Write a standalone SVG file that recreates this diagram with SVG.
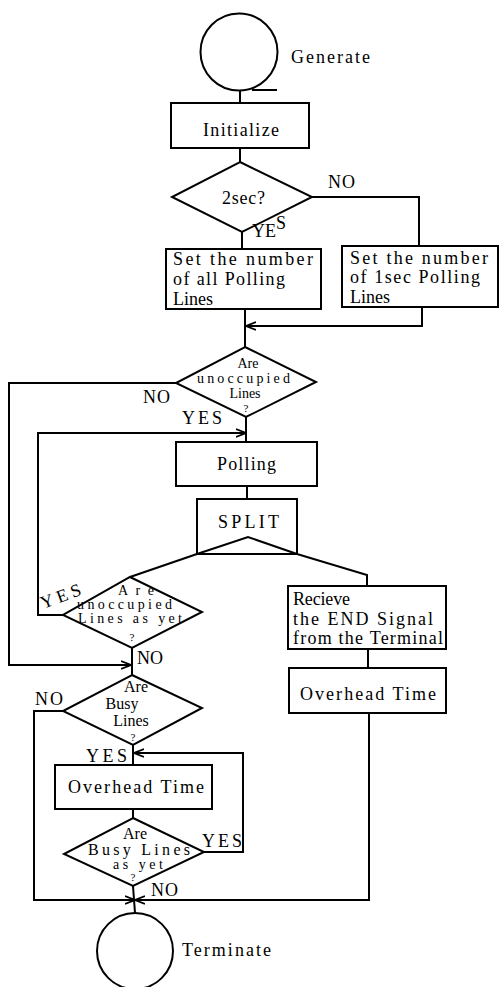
<svg xmlns="http://www.w3.org/2000/svg" width="499" height="987" viewBox="0 0 499 987">
<style>
.s{fill:none;stroke:#000;stroke-width:2}
.n{fill:#fff;stroke:#000;stroke-width:2}
text{font-family:"Liberation Serif","Times New Roman",serif;fill:#000}
.t{font-size:18px}
.m{font-size:16px}
.d{font-size:14px}
.q{font-size:11px}
.c{text-anchor:middle}
</style>
<defs>
<marker id="arr" viewBox="0 0 10 10" refX="10" refY="5" markerWidth="10" markerHeight="10" markerUnits="userSpaceOnUse" orient="auto">
<path d="M0,1 L10,5 L0,9" fill="none" stroke="#000" stroke-width="1.8"/>
</marker>
</defs>
<rect width="499" height="987" fill="#fff"/>
<g id="connectors" class="s">
<path d="M240,91 V103"/>
<path d="M240,148 V162"/>
<path d="M242,232 V249"/>
<path d="M312,197 H419 V246"/>
<path d="M245,309 V347"/>
<path d="M422,307 V326 H246" marker-end="url(#arr)"/>
<path d="M176,383 H9 V665 H131" marker-end="url(#arr)"/>
<path d="M246,417 V442"/>
<path d="M63,615 H38 V433 H246" marker-end="url(#arr)"/>
<path d="M247,486 V499"/>
<path d="M197,554 L130,577"/>
<path d="M297,554 L367,575 V586"/>
<path d="M132,648 V675"/>
<path d="M368,649 V668"/>
<path d="M369,713 V900 H135" marker-end="url(#arr)"/>
<path d="M63,711 H34 V900 H135" marker-end="url(#arr)"/>
<path d="M133,745 V765"/>
<path d="M133,809 V818"/>
<path d="M204,852 H243 V753 H134" marker-end="url(#arr)"/>
<path d="M133,886 L135,913"/>
</g>
<g id="generate">
<circle class="n" cx="239" cy="52" r="38.5"/>
<path class="s" d="M252,90 H277"/>
<text class="t" x="291" y="63" textLength="79" lengthAdjust="spacing">Generate</text>
</g>
<g id="initialize">
<rect class="n" x="171" y="103" width="138" height="45"/>
<text class="t" x="203" y="136" textLength="76" lengthAdjust="spacing">Initialize</text>
</g>
<g id="twosec">
<polygon class="n" points="240,162 312,197 242,232 172,197"/>
<text class="t" x="222" y="204" textLength="43" lengthAdjust="spacing">2sec?</text>
<text class="t" x="328" y="188" textLength="27" lengthAdjust="spacing">NO</text>
<text class="t" x="252" y="237">YE<tspan dy="-8">S</tspan></text>
</g>
<g id="setall">
<rect class="n" x="166" y="249" width="155" height="60"/>
<text class="t" x="173" y="265" textLength="140" lengthAdjust="spacing">Set the number</text>
<text class="t" x="173" y="285" textLength="112" lengthAdjust="spacing">of all Polling</text>
<text class="t" x="173" y="305">Lines</text>
</g>
<g id="set1sec">
<rect class="n" x="342" y="246" width="156" height="61"/>
<text class="t" x="350" y="264" textLength="138" lengthAdjust="spacing">Set the number</text>
<text class="t" x="350" y="283" textLength="130" lengthAdjust="spacing">of 1sec Polling</text>
<text class="t" x="350" y="303">Lines</text>
</g>
<g id="unoccupied">
<polygon class="n" points="245,347 316,382 246,417 176,383"/>
<text class="d c" x="248" y="368">Are</text>
<text class="d" x="197" y="383" textLength="93" lengthAdjust="spacing">unoccupied</text>
<text class="d c" x="245" y="398">Lines</text>
<text class="q c" x="246" y="412">?</text>
<text class="t" x="143" y="403" textLength="27" lengthAdjust="spacing">NO</text>
<text class="t" x="182" y="424" textLength="40" lengthAdjust="spacing">YES</text>
</g>
<g id="polling">
<rect class="n" x="176" y="442" width="141" height="44"/>
<text class="t" x="217" y="470" textLength="59" lengthAdjust="spacing">Polling</text>
</g>
<g id="split">
<rect class="n" x="197" y="499" width="100" height="55"/>
<path class="s" d="M197,554 L248,537 L297,554"/>
<text class="t" x="218" y="528" textLength="61" lengthAdjust="spacing">SPLIT</text>
</g>
<g id="asyet">
<polygon class="n" points="130,577 202,612 132,648 63,615"/>
<text class="d" x="118" y="595" textLength="36" lengthAdjust="spacing">Are</text>
<text class="d" x="77" y="609" textLength="95" lengthAdjust="spacing">unoccupied</text>
<text class="d" x="78" y="623" textLength="104" lengthAdjust="spacing">Lines as yet</text>
<text class="q c" x="132" y="641">?</text>
<text class="t" x="43" y="609" textLength="42" lengthAdjust="spacing" transform="rotate(-20 43 609)">YES</text>
<text class="t" x="137" y="664" textLength="26" lengthAdjust="spacing">NO</text>
</g>
<g id="recieve">
<rect class="n" x="288" y="586" width="158" height="63"/>
<text class="t" x="293" y="605" textLength="57" lengthAdjust="spacing">Recieve</text>
<text class="t" x="293" y="625" textLength="140" lengthAdjust="spacing">the END Signal</text>
<text class="t" x="293" y="644" textLength="150" lengthAdjust="spacing">from the Terminal</text>
</g>
<g id="overhead1">
<rect class="n" x="289" y="668" width="157" height="45"/>
<text class="t" x="300" y="700" textLength="136" lengthAdjust="spacing">Overhead Time</text>
</g>
<g id="busy">
<polygon class="n" points="132,675 202,708 133,745 63,711"/>
<text class="m c" x="136" y="692">Are</text>
<text class="m c" x="122" y="709">Busy</text>
<text class="m c" x="131" y="726">Lines</text>
<text class="q c" x="133" y="741">?</text>
<text class="t" x="35" y="705" textLength="28" lengthAdjust="spacing">NO</text>
<text class="t" x="86" y="762" textLength="41" lengthAdjust="spacing">YES</text>
</g>
<g id="overhead2">
<rect class="n" x="55" y="765" width="157" height="44"/>
<text class="t" x="68" y="793" textLength="136" lengthAdjust="spacing">Overhead Time</text>
</g>
<g id="busyasyet">
<polygon class="n" points="133,818 204,852 133,886 64,854"/>
<text class="m c" x="135" y="839">Are</text>
<text class="m" x="88" y="855" textLength="102" lengthAdjust="spacing">Busy Lines</text>
<text class="d" x="113" y="869" textLength="50" lengthAdjust="spacing">as yet</text>
<text class="q c" x="133" y="881">?</text>
<text class="t" x="202" y="847" textLength="40" lengthAdjust="spacing">YES</text>
<text class="t" x="151" y="896" textLength="27" lengthAdjust="spacing">NO</text>
</g>
<g id="terminate">
<circle class="n" cx="135" cy="951" r="38"/>
<text class="t" x="182" y="956" textLength="89" lengthAdjust="spacing">Terminate</text>
</g>
</svg>
